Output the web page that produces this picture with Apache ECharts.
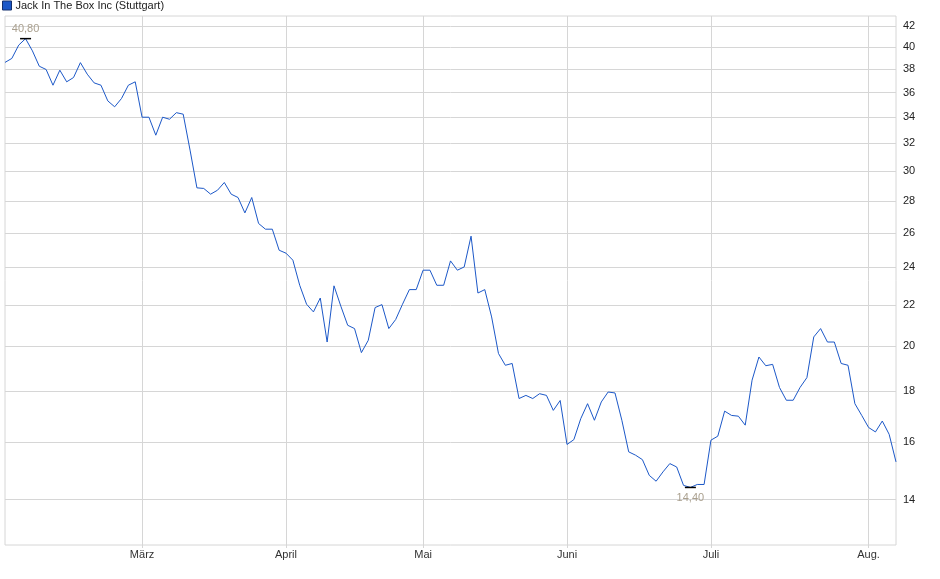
<!DOCTYPE html>
<html>
<head>
<meta charset="utf-8">
<script src="https://cdn.jsdelivr.net/npm/echarts@6/dist/echarts.min.js"></script>
<style>
html,body{margin:0;padding:0;background:#fff;}
#chart{width:940px;height:579px;}
</style>
</head>
<body>
<div id="chart"></div>
<script>
// Trading days (Stuttgart), Feb 3 - Aug 7 2025
const holidays = ['2025-04-18', '2025-04-21', '2025-05-01'];
const dates = [];
for (let t = Date.UTC(2025, 1, 3); t <= Date.UTC(2025, 7, 7); t += 86400000) {
  const d = new Date(t);
  const wd = d.getUTCDay();
  const s = d.toISOString().slice(0, 10);
  if (wd !== 0 && wd !== 6 && holidays.indexOf(s) < 0) dates.push(s);
}

const prices = [
  38.61, 38.97, 40.19, 40.80, 39.66, 38.27, 37.98, 36.62, 37.92, 36.91,
  37.28, 38.59, 37.57, 36.82, 36.62, 35.31, 34.83, 35.51, 36.62, 36.91,
  34.00, 34.00, 32.61, 34.00, 33.84, 34.36, 34.24, 31.50, 28.86, 28.82,
  28.44, 28.70, 29.22, 28.44, 28.22, 27.23, 28.22, 26.57, 26.22, 26.22,
  24.97, 24.80, 24.40, 23.02, 22.03, 21.64, 22.35, 20.18, 22.99, 21.93,
  20.98, 20.82, 19.69, 20.26, 21.86, 22.01, 20.82, 21.26, 22.03, 22.79,
  22.79, 23.84, 23.84, 23.02, 23.02, 24.36, 23.84, 24.02, 25.80, 22.61,
  22.79, 21.39, 19.65, 19.12, 19.20, 17.70, 17.83, 17.70, 17.90, 17.83,
  17.22, 17.62, 15.91, 16.09, 16.89, 17.49, 16.83, 17.56, 17.97, 17.93,
  16.83, 15.64, 15.52, 15.36, 14.81, 14.61, 14.93, 15.22, 15.10, 14.47,
  14.40, 14.50, 14.50, 16.07, 16.22, 17.19, 17.02, 16.99, 16.64, 18.47,
  19.49, 19.10, 19.16, 18.16, 17.63, 17.63, 18.16, 18.58, 20.42, 20.82,
  20.18, 20.18, 19.20, 19.12, 17.49, 17.02, 16.55, 16.38, 16.80, 16.29,
  15.28
];

const yTicks = [14, 16, 18, 20, 22, 24, 26, 28, 30, 32, 34, 36, 38, 40, 42];
const monthNames = ['Jan.', 'Feb.', 'März', 'April', 'Mai', 'Juni', 'Juli', 'Aug.', 'Sep.', 'Okt.', 'Nov.', 'Dez.'];
const seriesName = 'Jack In The Box Inc (Stuttgart)';

function isMonthStart(idx) {
  return idx > 0 && dates[idx].slice(5, 7) !== dates[idx - 1].slice(5, 7);
}
function fmt(v) { return v.toFixed(2).replace('.', ','); }

const chart = echarts.init(document.getElementById('chart'), null, { renderer: 'canvas' });
chart.setOption({
  animation: false,
  backgroundColor: '#fff',
  textStyle: { fontFamily: 'Liberation Sans, Arial, sans-serif' },
  legend: {
    left: 0, top: 0, padding: [0, 2],
    itemWidth: 9, itemHeight: 9, itemGap: 4,
    icon: 'rect',
    data: [{ name: seriesName, itemStyle: { color: '#1c58c8', borderColor: '#14306e', borderWidth: 1 } }],
    textStyle: { fontSize: 11, color: '#222', padding: [1, 0, 0, -1] }
  },
  grid: { left: 5, right: 44, top: 16, bottom: 34, show: true, borderColor: '#d6d6d6', borderWidth: 1 },
  xAxis: {
    type: 'category',
    data: dates,
    boundaryGap: false,
    axisLine: { show: false },
    axisTick: { show: true, interval: (i) => isMonthStart(i), length: 3, lineStyle: { color: '#d6d6d6' } },
    axisLabel: {
      interval: (i) => isMonthStart(i),
      formatter: (v) => monthNames[parseInt(v.slice(5, 7), 10) - 1],
      fontSize: 11, color: '#333', margin: 4
    },
    splitLine: { show: true, interval: (i) => isMonthStart(i), lineStyle: { color: '#d6d6d6' } }
  },
  yAxis: {
    type: 'log',
    logBase: 10,
    min: 12.6,
    max: 43,
    position: 'right',
    axisLine: { show: false },
    axisTick: { show: false, customValues: yTicks },
    axisLabel: { customValues: yTicks, fontSize: 11, color: '#222', margin: 7 },
    splitLine: { show: true, lineStyle: { color: '#d6d6d6' } }
  },
  series: [{
    name: seriesName,
    type: 'line',
    data: prices,
    showSymbol: false,
    symbol: 'none',
    lineStyle: { color: '#1c58c8', width: 1 },
    itemStyle: { color: '#1c58c8' },
    markPoint: {
      symbol: 'rect',
      symbolSize: [11, 1.5],
      itemStyle: { color: '#000' },
      data: [
        { type: 'max', label: { position: 'top', distance: 3, formatter: (p) => fmt(p.value), color: '#aaa08f', fontSize: 11 } },
        { type: 'min', label: { position: 'bottom', distance: 4, formatter: (p) => fmt(p.value), color: '#aaa08f', fontSize: 11 } }
      ]
    }
  }]
});
</script>
</body>
</html>
